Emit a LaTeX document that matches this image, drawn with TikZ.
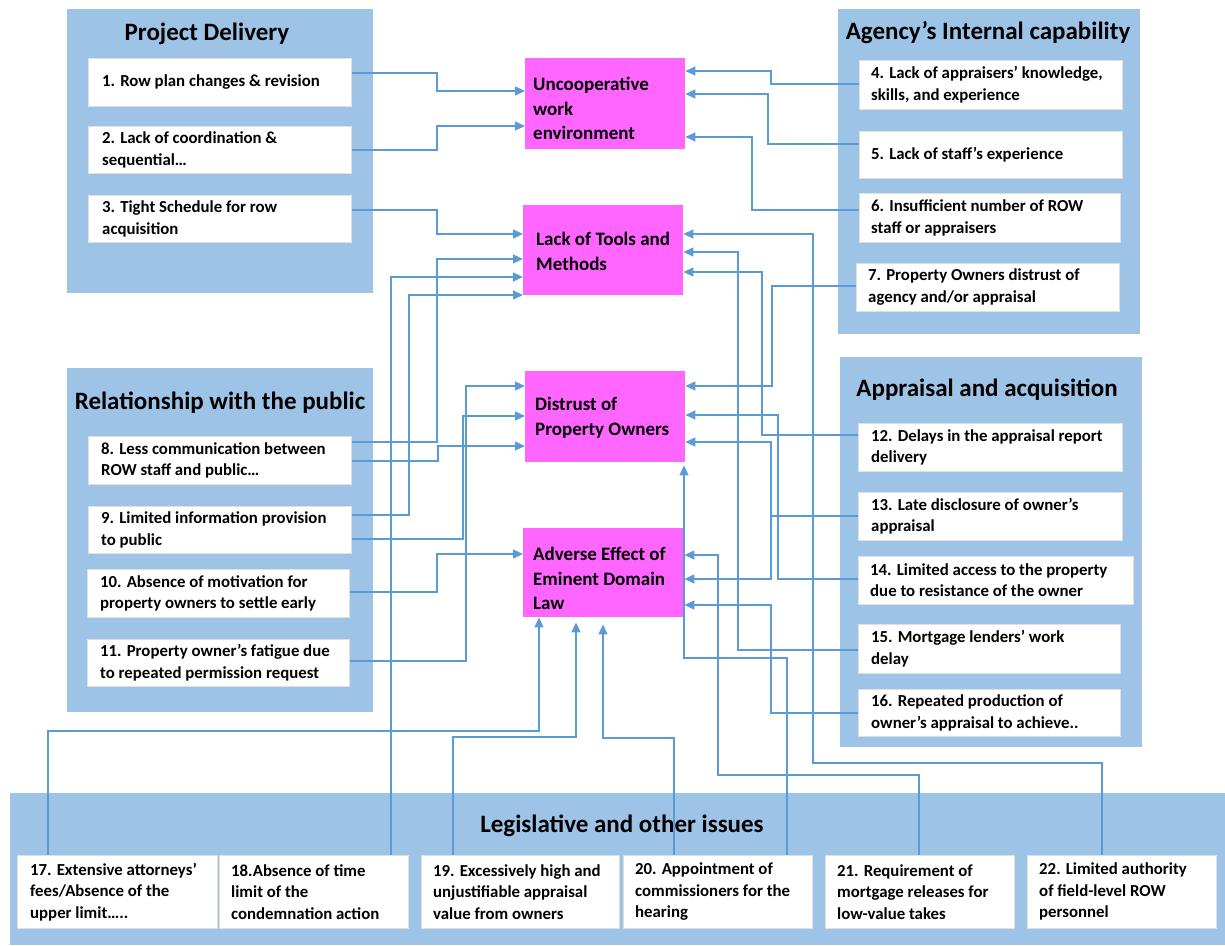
\documentclass[tikz,border=0pt]{standalone}
\usepackage{fontspec}
\setmainfont{Carlito}
\usetikzlibrary{arrows.meta}
\definecolor{panelblue}{HTML}{9DC3E6}
\definecolor{hubpink}{HTML}{FF66FF}
\definecolor{linkblue}{HTML}{5B9BD5}
\tikzset{
  panel/.style={fill=panelblue, draw=none, anchor=north west, inner sep=0},
  paneltitle/.style={font=\fontsize{25}{29}\selectfont\bfseries, inner sep=0},
  itembox/.style={fill=white, draw=black!12, line width=0.5pt, anchor=north west, inner sep=0},
  itemtext/.style={font=\fontsize{16.8}{21.5}\selectfont\bfseries, align=left, anchor=west, inner sep=0},
  hubbox/.style={fill=hubpink, draw=none, anchor=north west, inner sep=0},
  hubtext/.style={font=\fontsize{19}{24.5}\selectfont\bfseries, align=left, anchor=west, inner sep=0},
  link/.style={draw=linkblue, line width=1.3pt, -{Triangle[length=10pt,width=9pt]}}
}
% rectangle node from its corners: style, name, x1, y1, x2, y2
\newcommand\placebox[6]{%
  \pgfmathsetmacro\bw{#5-#3}\pgfmathsetmacro\bh{#6-#4}%
  \node[#1, minimum width=\bw pt, minimum height=\bh pt] (#2) at (#3,#4) {};}
\begin{document}
\begin{tikzpicture}[x=1pt,y=-1pt]
\useasboundingbox[fill=white] (0,0) rectangle (1225,945);

% category panels
\placebox{panel}{pd}{67}{9}{373}{293}
\placebox{panel}{rp}{67}{368}{373}{712}
\placebox{panel}{ag}{838}{9}{1140}{334}
\placebox{panel}{ap}{840}{357}{1142}{747}
\placebox{panel}{lg}{10}{793}{1225}{945}
\node[paneltitle] (pdt) at (207,34) {Project Delivery};
\node[paneltitle] (rpt) at (220,403) {Relationship with the public};
\node[paneltitle] (agt) at (988,33) {Agency’s Internal capability};
\node[paneltitle] (apt) at (987,390) {Appraisal and acquisition};
\node[paneltitle] (lgt) at (622,826) {Legislative and other issues};

% central problem boxes
\placebox{hubbox}{u}{525}{58}{685}{149}
\placebox{hubbox}{t}{523}{205}{683}{295}
\placebox{hubbox}{d}{525}{371}{685}{462}
\placebox{hubbox}{a}{523}{528}{684}{617}
\node[hubtext] (ut) at ([xshift=8pt,yshift=-5pt]u.west) {Uncooperative\\work\\environment};
\node[hubtext] (tt) at ([xshift=13pt,yshift=-1pt]t.west) {Lack of Tools and\\Methods};
\node[hubtext] (dt) at ([xshift=10pt,yshift=-1pt]d.west) {Distrust of\\Property Owners};
\node[hubtext] (at) at ([xshift=10pt,yshift=-6pt]a.west) {Adverse Effect of\\Eminent Domain\\Law};

% factor boxes
\placebox{itembox}{i1}{88}{58}{351}{106}
\placebox{itembox}{i2}{88}{126}{351}{173}
\placebox{itembox}{i3}{88}{195}{351}{242}
\placebox{itembox}{i4}{859}{60}{1122}{109}
\placebox{itembox}{i5}{859}{131}{1122}{178}
\placebox{itembox}{i6}{859}{193}{1120}{242}
\placebox{itembox}{i7}{856}{263}{1119}{311}
\placebox{itembox}{i8}{88}{436}{351}{484}
\placebox{itembox}{i9}{88}{506}{351}{553}
\placebox{itembox}{i10}{87}{569}{349}{617}
\placebox{itembox}{i11}{87}{639}{349}{686}
\placebox{itembox}{i12}{858}{423}{1122}{471}
\placebox{itembox}{i13}{858}{492}{1122}{540}
\placebox{itembox}{i14}{858}{556}{1133}{604}
\placebox{itembox}{i15}{858}{624}{1120}{673}
\placebox{itembox}{i16}{858}{689}{1120}{736}
\placebox{itembox}{i17}{17}{855}{217}{928}
\placebox{itembox}{i18}{219}{855}{408}{928}
\placebox{itembox}{i19}{421}{855}{619}{928}
\placebox{itembox}{i20}{623}{855}{812}{928}
\placebox{itembox}{i21}{825}{855}{1014}{928}
\placebox{itembox}{i22}{1027}{855}{1216}{928}

\node[itemtext] (l1) at ([xshift=14pt]i1.west) {1. Row plan changes \& revision};
\node[itemtext] (l2) at ([xshift=14pt]i2.west) {2. Lack of coordination \&\\sequential…};
\node[itemtext] (l3) at ([xshift=14pt]i3.west) {3. Tight Schedule for row\\acquisition};
\node[itemtext] (l4) at ([xshift=12pt]i4.west) {4. Lack of appraisers’ knowledge,\\skills, and experience};
\node[itemtext] (l5) at ([xshift=12pt]i5.west) {5. Lack of staff’s experience};
\node[itemtext] (l6) at ([xshift=12pt]i6.west) {6. Insufficient number of ROW\\staff or appraisers};
\node[itemtext] (l7) at ([xshift=12pt]i7.west) {7. Property Owners distrust of\\agency and/or appraisal};
\node[itemtext] (l8) at ([xshift=13pt]i8.west) {8. Less communication between\\ROW staff and public…};
\node[itemtext] (l9) at ([xshift=13pt]i9.west) {9. Limited information provision\\to public};
\node[itemtext] (l10) at ([xshift=13pt]i10.west) {10. Absence of motivation for\\property owners to settle early};
\node[itemtext] (l11) at ([xshift=13pt]i11.west) {11. Property owner’s fatigue due\\to repeated permission request};
\node[itemtext] (l12) at ([xshift=13pt]i12.west) {12. Delays in the appraisal report\\delivery};
\node[itemtext] (l13) at ([xshift=13pt]i13.west) {13. Late disclosure of owner’s\\appraisal};
\node[itemtext] (l14) at ([xshift=12pt]i14.west) {14. Limited access to the property\\due to resistance of the owner};
\node[itemtext] (l15) at ([xshift=13pt]i15.west) {15. Mortgage lenders’ work\\delay};
\node[itemtext] (l16) at ([xshift=13pt]i16.west) {16. Repeated production of\\owner’s appraisal to achieve..};
\node[itemtext] (l17) at ([xshift=13pt]i17.west) {17. Extensive attorneys’\\fees/Absence of the\\upper limit…..};
\node[itemtext] (l18) at ([xshift=12pt]i18.west) {18.Absence of time\\limit of the\\condemnation action};
\node[itemtext] (l19) at ([xshift=12pt]i19.west) {19. Excessively high and\\unjustifiable appraisal\\value from owners};
\node[itemtext] (l20) at ([xshift=12pt]i20.west) {20. Appointment of\\commissioners for the\\hearing};
\node[itemtext] (l21) at ([xshift=12pt]i21.west) {21. Requirement of\\mortgage releases for\\low-value takes};
\node[itemtext] (l22) at ([xshift=12pt]i22.west) {22. Limited authority\\of field-level ROW\\personnel};

% links from the left-hand factors
\draw[link] (i1.east |- 0,73) -| (437,91) -- (u.west |- 0,91);
\draw[link] (i2.east |- 0,150) -| (437,126) -- (u.west |- 0,126);
\draw[link] (i3.east |- 0,210) -| (437,234) -- (t.west |- 0,234);
\draw[link] (i8.east |- 0,442) -| (437,259) -- (t.west |- 0,259);
\draw[link] (i9.east |- 0,515) -| (409,295) -- (t.west |- 0,295);
\draw[link] (i8.east |- 0,461) -| (438,446) -- (d.west |- 0,446);
\draw[link] (i9.east |- 0,539) -| (463,416) -- (d.west |- 0,416);
\draw[link] (i11.east |- 0,661) -| (466,386) -- (d.west |- 0,386);
\draw[link] (i10.east |- 0,592) -| (437,554) -- (a.west |- 0,554);

% links from the right-hand factors
\draw[link] (i4.west |- 0,84) -| (771,71) -- (u.east |- 0,71);
\draw[link] (i5.west |- 0,144) -| (768,94) -- (u.east |- 0,94);
\draw[link] (i6.west |- 0,210) -| (752,137) -- (u.east |- 0,137);
\draw[link] (i7.west |- 0,286) -| (772,386) -- (d.east |- 0,386);
\draw[link] (i12.west |- 0,435) -| (762,272) -- (t.east |- 0,272);
\draw[link] (i13.west |- 0,516) -| (771,442) -- (d.east |- 0,442);
\draw[link] (i13.west |- 0,516) -| (771,579) -- (a.east |- 0,579);
\draw[link] (i14.west |- 0,579) -| (778,415) -- (d.east |- 0,415);
\draw[link] (i15.west |- 0,650) -| (738,252) -- (t.east |- 0,252);
\draw[link] (i16.west |- 0,713) -| (771,605) -- (a.east |- 0,605);

% links from the legislative factors
\draw[link] (48,0 |- i17.north) |- (539,731) -- (539,0 |- a.south);
\draw[link] (391,0 |- i18.north) |- (t.west |- 0,277);
\draw[link, shorten >=5pt] (453,0 |- i19.north) |- (576,737) -- (576,0 |- a.south);
\draw[link, shorten >=7pt] (674,0 |- i20.north) |- (603,738) -- (603,0 |- a.south);
\draw[link, shorten >=3pt] (787,0 |- i20.north) |- (684,658) -- (684,0 |- d.south);
\draw[link] (919,0 |- i21.north) |- (718,775) |- (a.east |- 0,555);
\draw[link] (1102,0 |- i22.north) |- (813,763) |- (t.east |- 0,234);
\end{tikzpicture}
\end{document}
